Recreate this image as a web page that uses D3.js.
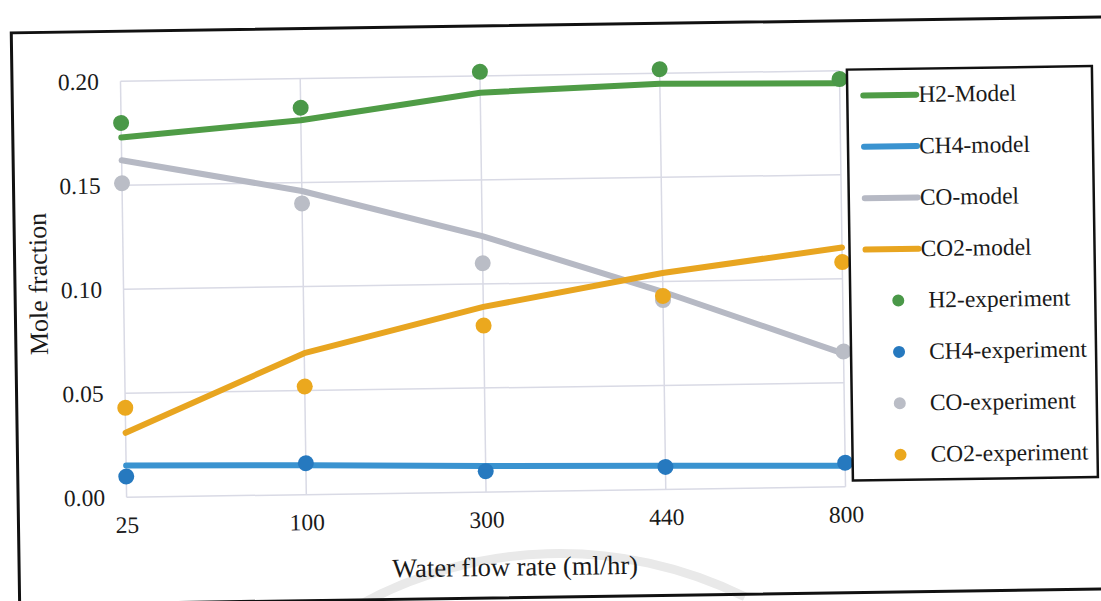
<!DOCTYPE html>
<html>
<head>
<meta charset="utf-8">
<script src="https://cdn.jsdelivr.net/npm/d3@7"></script>
<style>
  html, body { margin: 0; padding: 0; background: #ffffff; }
  svg { display: block; }
  text { font-family: "Liberation Serif", "Times New Roman", serif; fill: #1a1a1a; }
</style>
</head>
<body>
<svg id="chart" width="1101" height="601"></svg>
<script>
// ---- data ----
const categories = ["25", "100", "300", "440", "800"];
const yTicks = [0, 0.05, 0.10, 0.15, 0.20];

const h2Model  = [0.173, 0.180, 0.192, 0.195, 0.194];
const ch4Model = [0.0153, 0.0141, 0.0125, 0.0113, 0.0101];
const coModel  = [0.162, 0.146, 0.123, 0.095, 0.064];
const co2Model = [0.031, 0.068, 0.089, 0.104, 0.115];

const h2Exp  = [0.180, 0.186, 0.202, 0.202, 0.196];
const ch4Exp = [0.010, 0.0151, 0.010, 0.0108, 0.0115];
const coExp  = [0.151, 0.140, 0.110, 0.091, 0.065];
const co2Exp = [0.043, 0.052, 0.080, 0.093, 0.108];

const modelNames = ["H2-Model", "CH4-model", "CO-model", "CO2-model"];
const expNames   = ["H2-experiment", "CH4-experiment", "CO-experiment", "CO2-experiment"];

const lineColors  = ["#4f9c46", "#3a93d0", "#b6b9c4", "#e8a520"];
const pointColors = ["#4a9848", "#2679bf", "#babdc6", "#eba81e"];

const modelSeries = [h2Model, ch4Model, coModel, co2Model];
const expSeries   = [h2Exp, ch4Exp, coExp, co2Exp];

// ---- layout ----
const svg = d3.select("#chart");
const W = 1101, H = 601;
svg.append("rect").attr("width", W).attr("height", H).attr("fill", "#ffffff");

// faint watermark arc of the scanned page
svg.append("path")
  .attr("d", d3.arc()({innerRadius: 412, outerRadius: 421, startAngle: -0.52, endAngle: 0.46}))
  .attr("transform", "translate(560,970)")
  .attr("fill", "#e9e9e9");

const g = svg.append("g").attr("transform", "rotate(-0.84, 483, 284)");

const plot = {left: 123.5, right: 842.5, top: 76, bottom: 492};

const x = d3.scalePoint().domain(categories).range([plot.left, plot.right]).padding(0);
const y = d3.scaleLinear().domain([0, 0.20]).range([plot.bottom, plot.top]);

// outer frame
g.append("rect")
  .attr("x", 15).attr("y", 26).attr("width", 1120).attr("height", 572)
  .attr("fill", "none").attr("stroke", "#111").attr("stroke-width", 3);

// gridlines
const grid = g.append("g").attr("stroke", "#d9dae5").attr("stroke-width", 1.5);
grid.selectAll("line.h").data(yTicks).join("line")
  .attr("x1", plot.left).attr("x2", plot.right)
  .attr("y1", d => y(d)).attr("y2", d => y(d));
grid.selectAll("line.v").data(categories).join("line")
  .attr("x1", d => x(d)).attr("x2", d => x(d))
  .attr("y1", y(0)).attr("y2", y(0.20));

// axes (labels only, no domain line)
const yAxis = d3.axisLeft(y).tickValues(yTicks).tickFormat(d3.format(".2f")).tickSize(0).tickPadding(21.5);
const ya = g.append("g").attr("transform", `translate(${plot.left},0)`).call(yAxis);
ya.select(".domain").remove();
ya.selectAll("text").attr("font-size", 23.5).attr("font-family", "Liberation Serif").attr("fill", "#1a1a1a");

const xAxis = d3.axisBottom(x).tickSize(0).tickPadding(19);
const xa = g.append("g").attr("transform", `translate(0,${plot.bottom})`).call(xAxis);
xa.select(".domain").remove();
xa.selectAll("text").attr("font-size", 23.5).attr("font-family", "Liberation Serif").attr("fill", "#1a1a1a");

// axis titles
g.append("text").attr("x", 511).attr("y", 576).attr("text-anchor", "middle")
  .attr("font-size", 26.5).text("Water flow rate (ml/hr)");
g.append("text").attr("transform", "translate(47,277.5) rotate(-90)").attr("text-anchor", "middle")
  .attr("font-size", 26).text("Mole fraction");

// model lines
const line = d3.line()
  .x((d, i) => x(categories[i]))
  .y(d => y(d))
  .curve(d3.curveLinear);

g.append("g").selectAll("path").data(modelSeries).join("path")
  .attr("d", d => line(d))
  .attr("fill", "none")
  .attr("stroke", (d, i) => lineColors[i])
  .attr("stroke-width", 6)
  .attr("stroke-linecap", "round")
  .attr("stroke-linejoin", "round");

// experiment points
expSeries.forEach((s, si) => {
  g.append("g").selectAll("circle").data(s).join("circle")
    .attr("cx", (d, i) => x(categories[i]))
    .attr("cy", d => y(d))
    .attr("r", 8)
    .attr("fill", pointColors[si]);
});

// legend
const lg = g.append("g");
lg.append("rect").attr("x", 850).attr("y", 75).attr("width", 245).attr("height", 411)
  .attr("fill", "#ffffff").attr("stroke", "#111").attr("stroke-width", 2.5);

const rowY0 = 101, rowStep = 51.4;
modelNames.forEach((name, i) => {
  const ry = rowY0 + i * rowStep;
  lg.append("line").attr("x1", 866).attr("x2", 919).attr("y1", ry).attr("y2", ry)
    .attr("stroke", lineColors[i]).attr("stroke-width", 6).attr("stroke-linecap", "round");
  lg.append("text").attr("x", 921).attr("y", ry + 7.5).attr("font-size", 23.5).text(name);
});
expNames.forEach((name, i) => {
  const ry = rowY0 + (i + 4) * rowStep;
  lg.append("circle").attr("cx", 898).attr("cy", ry).attr("r", 6).attr("fill", pointColors[i]);
  lg.append("text").attr("x", 928).attr("y", ry + 7.5).attr("font-size", 23.5).text(name);
});
</script>
</body>
</html>
